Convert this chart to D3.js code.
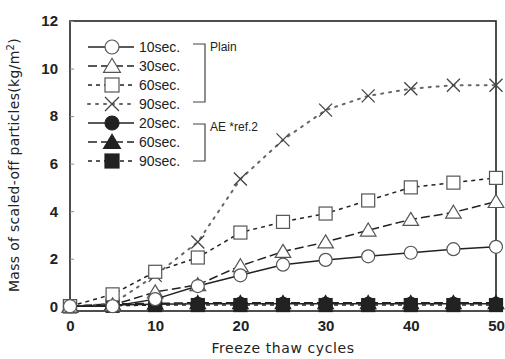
<!DOCTYPE html>
<html>
<head>
<meta charset="utf-8">
<script src="https://cdn.jsdelivr.net/npm/d3@7"></script>
<style>
  body { margin: 0; background: #fff; }
  text { font-family: "Liberation Sans", "DejaVu Sans", sans-serif; fill: #222; }
</style>
</head>
<body>
<svg id="chart" width="505" height="359"></svg>
<script>
// freeze thaw cycles
var cycles = [0, 5, 10, 15, 20, 25, 30, 35, 40, 45, 50];

// Plain concrete
var plain10 = [0, 0.0, 0.3, 0.85, 1.3, 1.75, 1.95, 2.1, 2.25, 2.4, 2.5];
var plain30 = [0, 0.05, 0.6, 0.9, 1.7, 2.3, 2.7, 3.2, 3.65, 3.95, 4.4];
var plain60 = [0, 0.5, 1.45, 2.05, 3.1, 3.55, 3.9, 4.45, 5.0, 5.2, 5.4];
var plain90 = [0, 0.1, 1.3, 2.7, 5.35, 7.0, 8.25, 8.85, 9.15, 9.3, 9.3];

// AE concrete (*ref.2)
var ae20 = [0, 0.05, 0.08, 0.1, 0.1, 0.1, 0.1, 0.1, 0.1, 0.1, 0.1];
var ae60 = [0, 0.1, 0.12, 0.15, 0.15, 0.15, 0.15, 0.15, 0.15, 0.15, 0.15];
var ae90 = [0, 0.02, 0.05, 0.05, 0.05, 0.05, 0.05, 0.05, 0.05, 0.05, 0.05];

var yTicks = [0, 2, 4, 6, 8, 10, 12];
var xTicks = [0, 10, 20, 30, 40, 50];

var series = [
    {label: "10sec.", values: plain10, marker: "circle", filled: false, dash: null},
    {label: "30sec.", values: plain30, marker: "triangle", filled: false, dash: "9,4"},
    {label: "60sec.", values: plain60, marker: "square", filled: false, dash: "4,4"},
    {label: "90sec.", values: plain90, marker: "cross", filled: false, dash: "2,6"},
    {label: "20sec.", values: ae20, marker: "circle", filled: true, dash: null},
    {label: "60sec.", values: ae60, marker: "triangle", filled: true, dash: "9,4"},
    {label: "90sec.", values: ae90, marker: "square", filled: true, dash: "4,4"}
];

var svg = d3.select("#chart");
var ink = "#222";

var x = d3.scaleLinear().domain([0, 50]).range([70, 496]);
var y = d3.scaleLinear().domain([-0.2, 12]).range([311, 21]);

// frame
svg.append("rect")
    .attr("x", x(0)).attr("y", y(12))
    .attr("width", x(50) - x(0)).attr("height", y(-0.2) - y(12))
    .attr("fill", "none").attr("stroke", ink).attr("stroke-width", 1.6);

// y axis (ticks inside)
var yAxis = svg.append("g")
    .attr("transform", "translate(" + x(0) + ",0)")
    .call(d3.axisRight(y).tickValues(yTicks).tickSize(4).tickFormat(""));
yAxis.select(".domain").remove();
yAxis.selectAll("line").attr("stroke", "#888");

svg.append("g").selectAll("text")
    .data(yTicks)
    .enter()
    .append("text")
    .attr("x", 58)
    .attr("y", function (d) { return y(d); })
    .attr("dy", "0.36em")
    .attr("text-anchor", "end")
    .style("font-size", "15px")
    .style("font-weight", "bold")
    .text(function (d) { return d; });

var xAxis = svg.append("g")
    .attr("transform", "translate(0," + y(-0.2) + ")")
    .call(d3.axisBottom(x).tickValues(xTicks).tickSize(0).tickPadding(9));
xAxis.select(".domain").remove();
xAxis.selectAll("text").style("font-size", "15px").style("font-weight", "bold")
    .style("font-family", "Liberation Sans, DejaVu Sans, sans-serif").attr("fill", ink);

// axis titles
svg.append("text")
    .attr("x", 283).attr("y", 353)
    .attr("text-anchor", "middle")
    .style("font-family", "DejaVu Sans, sans-serif")
    .style("font-size", "14px")
    .style("letter-spacing", "0.6px")
    .text("Freeze thaw cycles");

svg.append("text")
    .attr("transform", "translate(19,165) rotate(-90)")
    .attr("text-anchor", "middle")
    .style("font-family", "DejaVu Sans, sans-serif")
    .style("font-size", "14px")
    .style("letter-spacing", "0.3px")
    .html("Mass of scaled-off particles(kg/m<tspan dy='-5' font-size='10px'>2</tspan><tspan dy='5'>)</tspan>");

function drawMarker(g, type, filled, size) {
    var fill = filled ? ink : "#fff";
    var s = size;
    if (type === "circle") {
        g.append("circle").attr("r", s / 2).attr("fill", fill).attr("stroke", filled ? ink : "#555").attr("stroke-width", 1.2);
    } else if (type === "square") {
        g.append("rect").attr("x", -s / 2).attr("y", -s / 2).attr("width", s).attr("height", s)
            .attr("fill", fill).attr("stroke", filled ? ink : "#555").attr("stroke-width", 1.2);
    } else if (type === "triangle") {
        g.append("path").attr("d", "M0," + (-s * 0.55) + "L" + (s * 0.6) + "," + (s * 0.45) + "L" + (-s * 0.6) + "," + (s * 0.45) + "Z")
            .attr("fill", fill).attr("stroke", filled ? ink : "#555").attr("stroke-width", 1.2);
    } else if (type === "cross") {
        var h = s / 2;
        g.append("path").attr("d", "M" + (-h) + "," + (-h) + "L" + h + "," + h + "M" + h + "," + (-h) + "L" + (-h) + "," + h)
            .attr("stroke", "#444").attr("stroke-width", 1.3).attr("fill", "none");
    }
}

var line = d3.line()
    .x(function (d, i) { return x(cycles[i]); })
    .y(function (d) { return y(d); });

// draw AE first then plain on top
var order = [6, 5, 4, 3, 2, 1, 0];
order.forEach(function (k) {
    var s = series[k];
    svg.append("path")
        .datum(s.values)
        .attr("d", line)
        .attr("fill", "none")
        .attr("stroke", s.marker === "cross" ? "#666" : ink)
        .attr("stroke-width", s.marker === "cross" ? 2 : 1.5)
        .attr("stroke-linecap", s.marker === "cross" ? "round" : "butt")
        .attr("stroke-dasharray", s.dash);
    svg.append("g").selectAll("g")
        .data(s.values)
        .enter()
        .append("g")
        .attr("transform", function (d, i) { return "translate(" + x(cycles[i]) + "," + y(d) + ")"; })
        .each(function () { drawMarker(d3.select(this), s.marker, s.filled, 13); });
});

// legend
var legend = svg.append("g").selectAll("g")
    .data(series)
    .enter()
    .append("g")
    .attr("transform", function (d, i) { return "translate(0," + (47 + i * 19) + ")"; });

legend.append("line")
    .attr("x1", 88).attr("x2", 134)
    .attr("stroke", function (d) { return d.marker === "cross" ? "#666" : ink; })
    .attr("stroke-width", function (d) { return d.marker === "cross" ? 2 : 1.5; })
    .attr("stroke-linecap", function (d) { return d.marker === "cross" ? "round" : "butt"; })
    .attr("stroke-dasharray", function (d) { return d.dash; });

legend.append("g")
    .attr("transform", "translate(112,0)")
    .each(function (d) { drawMarker(d3.select(this), d.marker, d.filled, 14); });

legend.append("text")
    .attr("x", 139).attr("dy", "0.36em")
    .style("font-size", "14px")
    .text(function (d) { return d.label; });

// group brackets
function bracket(y0, y1, label, ly) {
    svg.append("path")
        .attr("d", "M193," + y0 + "H205V" + y1 + "H193")
        .attr("fill", "none").attr("stroke", "#444").attr("stroke-width", 1.2);
    svg.append("text")
        .attr("x", 210).attr("y", ly).attr("dy", "0.36em")
        .style("font-size", "12px")
        .text(label);
}
bracket(44, 102, "Plain", 47);
bracket(124, 161, "AE *ref.2", 127);
</script>
</body>
</html>
